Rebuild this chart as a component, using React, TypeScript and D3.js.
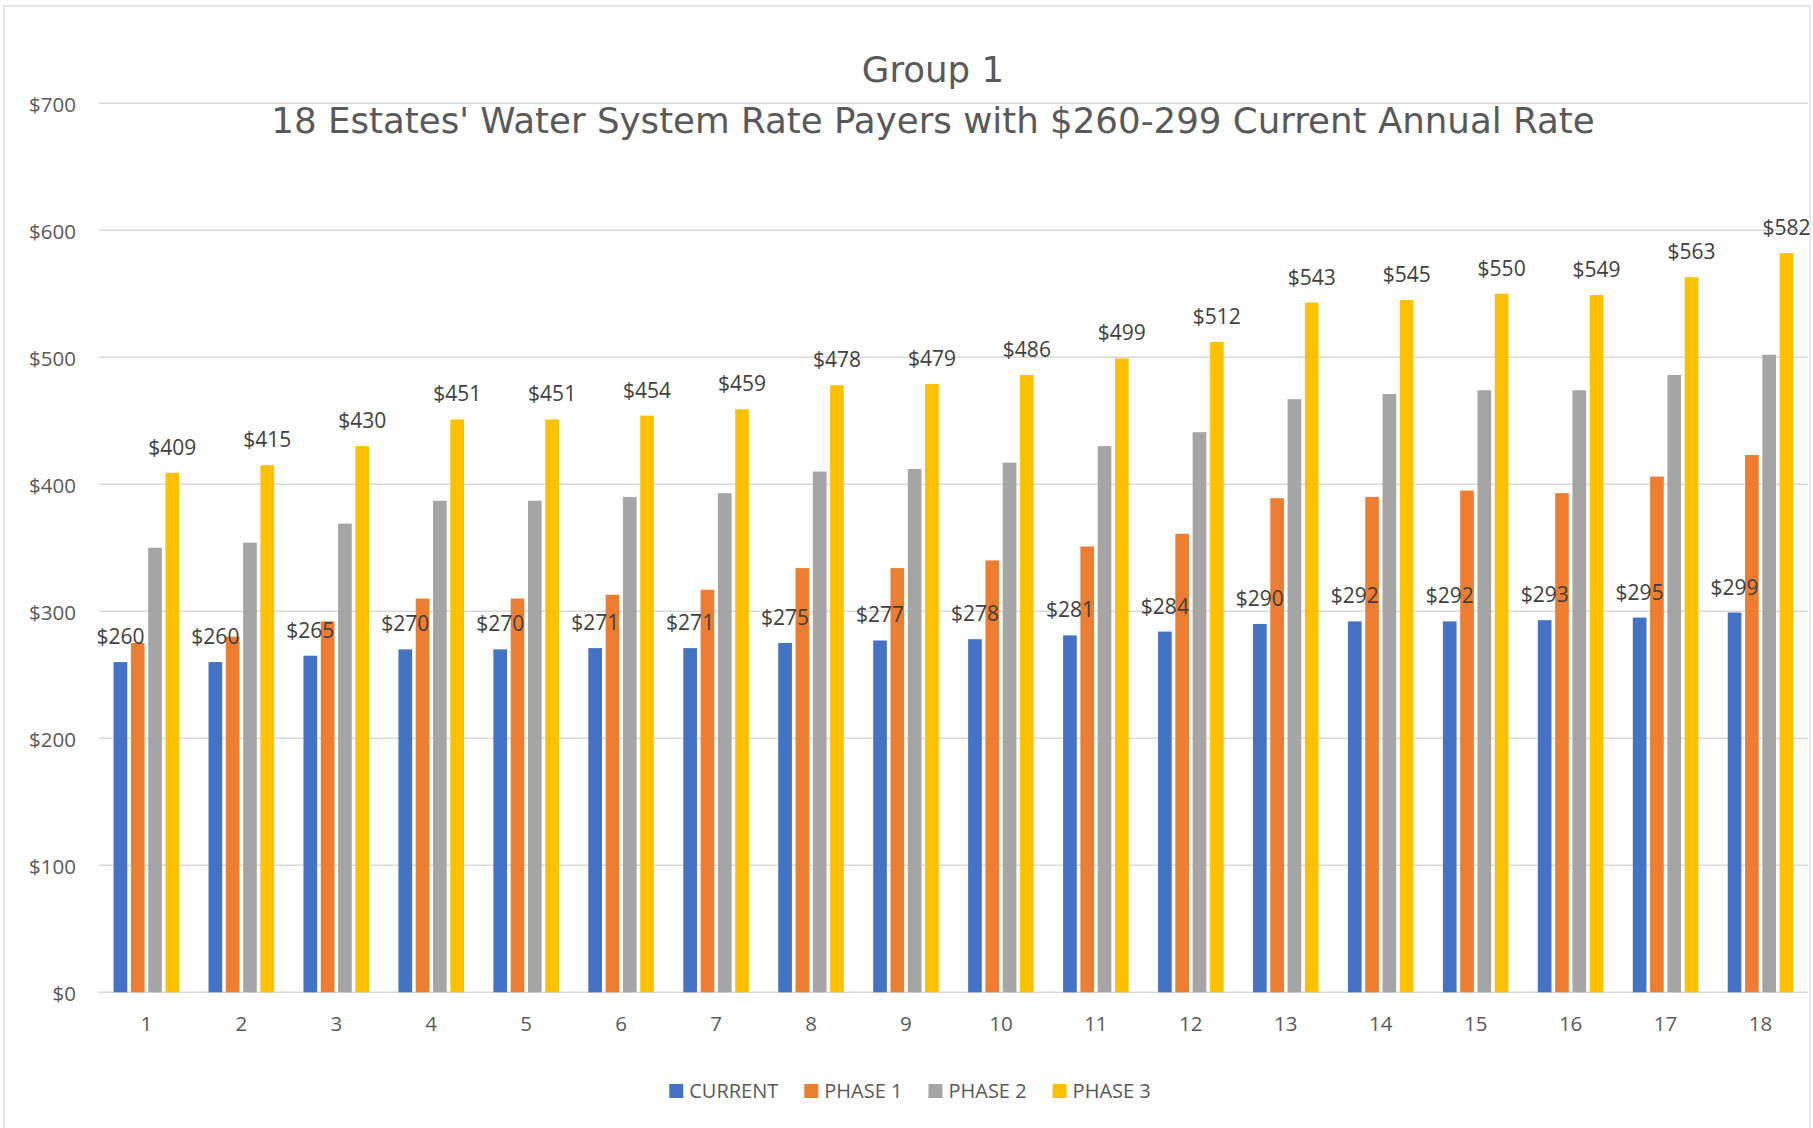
import React, { useEffect, useRef } from "react";
import * as d3 from "d3";

const categories = ["1","2","3","4","5","6","7","8","9","10","11","12","13","14","15","16","17","18"];
const seriesNames = ["CURRENT", "PHASE 1", "PHASE 2", "PHASE 3"];
const seriesColors = ["#4472C4", "#ED7D31", "#A5A5A5", "#FFC000"];
const current = [260, 260, 265, 270, 270, 271, 271, 275, 277, 278, 281, 284, 290, 292, 292, 293, 295, 299];
const phase1 = [275, 280, 292, 310, 310, 313, 317, 334, 334, 340, 351, 361, 389, 390, 395, 393, 406, 423];
const phase2 = [350, 354, 369, 387, 387, 390, 393, 410, 412, 417, 430, 441, 467, 471, 474, 474, 486, 502];
const phase3 = [409, 415, 430, 451, 451, 454, 459, 478, 479, 486, 499, 512, 543, 545, 550, 549, 563, 582];
const labeledSeries = ["CURRENT", "PHASE 3"];
const yTicks = [0, 100, 200, 300, 400, 500, 600, 700];
const titleLines = ["Group 1", "18 Estates' Water System Rate Payers with $260-299 Current Annual Rate"];

const W = 1813;
const H = 1128;
const TXT = "'Open Sans', 'Noto Sans', sans-serif";
const TITLE_FONT = "'DejaVu Sans', sans-serif";

export default function App() {
  const ref = useRef<SVGSVGElement | null>(null);

  useEffect(() => {
    const svg = d3.select(ref.current);
    svg.selectAll("*").remove();

    const values = [current, phase1, phase2, phase3];
    const plotL = 98.9, plotR = 1808, plotB = 992.3, plotT = 103.2;

    const y = d3.scaleLinear().domain([0, 700]).range([plotB, plotT]);
    const x = d3.scaleBand().domain(categories).range([plotL, plotR]).paddingInner(0).paddingOuter(0);
    const groupW = 69.2;
    const xs = d3.scaleBand().domain(seriesNames).range([-groupW / 2, groupW / 2]);
    const barW = xs.bandwidth() * 0.79;

    svg.append("rect").attr("x", 0).attr("y", 0).attr("width", W).attr("height", H).attr("fill", "#fff");
    // chart border
    svg.append("rect").attr("x", 4).attr("y", 6).attr("width", 1806).attr("height", 1130)
      .attr("fill", "none").attr("stroke", "#d9d9d9").attr("stroke-width", 1.3);

    // gridlines
    svg.append("g").selectAll("line").data(yTicks).join("line")
      .attr("x1", plotL).attr("x2", plotR)
      .attr("y1", (d) => y(d)).attr("y2", (d) => y(d))
      .attr("stroke", "#d9d9d9").attr("stroke-width", 1.5);

    // y tick labels
    svg.append("g").selectAll("text").data(yTicks).join("text")
      .attr("x", 76).attr("y", (d) => y(d) + 8.5)
      .attr("text-anchor", "end")
      .attr("font-family", TXT).attr("font-size", 20.5).attr("fill", "#595959")
      .text((d) => d3.format("$,")(d));

    // category labels
    svg.append("g").selectAll("text").data(categories).join("text")
      .attr("x", (d) => (x(d) as number) + x.bandwidth() / 2)
      .attr("y", plotB + 38.7)
      .attr("text-anchor", "middle")
      .attr("font-family", TXT).attr("font-size", 20.5).attr("fill", "#595959")
      .text((d) => d);

    // bars
    seriesNames.forEach((s, si) => {
      const g = svg.append("g");
      g.selectAll("rect").data(values[si]).join("rect")
        .attr("x", (d, i) => (x(categories[i]) as number) + x.bandwidth() / 2 + (xs(s) as number) + (xs.bandwidth() - barW) / 2)
        .attr("y", (d) => y(d))
        .attr("width", barW)
        .attr("height", (d) => y(0) - y(d))
        .attr("fill", seriesColors[si]);
    });

    // data labels
    seriesNames.forEach((s, si) => {
      if (!labeledSeries.includes(s)) return;
      svg.append("g").selectAll("text").data(values[si]).join("text")
        .attr("x", (d, i) => (x(categories[i]) as number) + x.bandwidth() / 2 + (xs(s) as number) + xs.bandwidth() / 2)
        .attr("y", (d) => y(d) - 18)
        .attr("text-anchor", "middle")
        .attr("font-family", TXT).attr("font-size", 21).attr("fill", "#404040")
        .text((d) => d3.format("$,")(d));
    });

    // title
    const titleBaselines = [82, 133];
    const titleSel = svg.append("g").selectAll("text").data(titleLines).join("text")
      .attr("x", 933).attr("y", (d, i) => titleBaselines[i])
      .attr("text-anchor", "middle")
      .attr("font-family", TITLE_FONT).attr("font-size", 35).attr("fill", "#595959")
      .text((d) => d);
    const line2 = titleSel.nodes()[1] as SVGTextElement;
    const measured = line2.getComputedTextLength();
    if (measured > 0) {
      const fs = Math.max(28, Math.min(42, (35 * 1324) / measured));
      titleSel.attr("font-size", fs);
    }

    // legend
    const lg = svg.append("g");
    const items = seriesNames.map((s, i) => {
      const it = lg.append("g");
      it.append("rect").attr("x", 0).attr("y", 1084).attr("width", 14).attr("height", 14).attr("fill", seriesColors[i]);
      const t = it.append("text").attr("x", 20).attr("y", 1097.5)
        .attr("font-family", TXT).attr("font-size", 20).attr("fill", "#595959").text(s);
      const w = (t.node() as SVGTextElement).getComputedTextLength();
      return { it, w: 20 + w };
    });
    const gap = 26;
    const total = items.reduce((a, b) => a + b.w, 0) + gap * (items.length - 1);
    let cx = 910 - total / 2;
    items.forEach((o) => {
      o.it.attr("transform", `translate(${cx},0)`);
      cx += o.w + gap;
    });
  }, []);

  return (
    <div style={{ position: "absolute", left: 0, top: 0, width: W, height: H, overflow: "hidden" }}>
      <svg ref={ref} width={W} height={H} style={{ display: "block" }} />
    </div>
  );
}
